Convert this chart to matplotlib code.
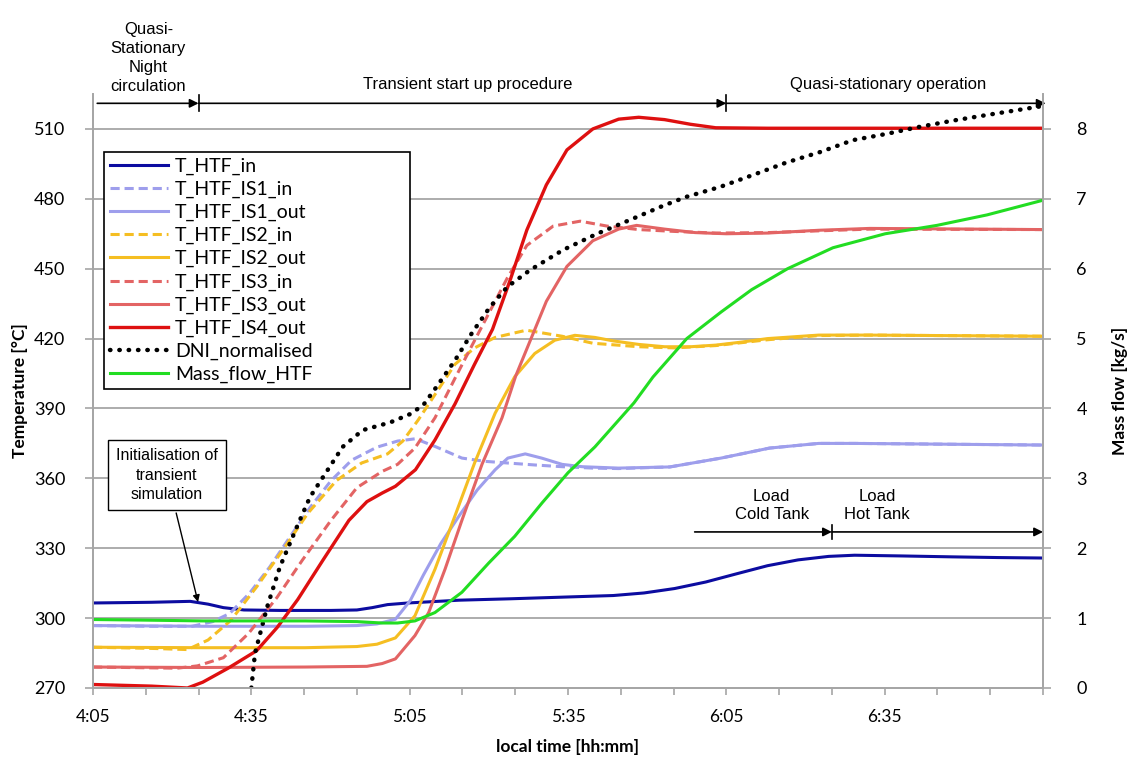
import matplotlib
matplotlib.use("Agg")
import matplotlib.pyplot as plt

# time axis: minutes after 4:05 (local time)
x_ticks = list(range(0, 181, 10))
x_labels = ["4:05", "", "", "4:35", "", "", "5:05", "", "", "5:35", "", "",
            "6:05", "", "", "6:35", "", "", ""]
temp_ticks = [270, 300, 330, 360, 390, 420, 450, 480, 510]
flow_ticks = [0, 1, 2, 3, 4, 5, 6, 7, 8]

# T_HTF_in
t_in = [0, 11.1, 18.4, 21.8, 24.7, 28.6, 35.4, 45.1, 50, 52.9, 55.8, 59.7, 69.4, 79.1,
        88.9, 98.6, 104.4, 110.2, 116.1, 121.9, 127.8, 133.6, 139.4, 144.3, 153, 162.8,
        171.5, 180]
v_in = [306.5, 306.8, 307.2, 306, 304.5, 303.5, 303.3, 303.3, 303.5, 304.5, 305.8, 306.5,
        307.7, 308.3, 309, 309.7, 310.8, 312.7, 315.5, 319, 322.5, 325, 326.5, 327, 326.7,
        326.3, 326, 325.8]

# T_HTF_IS1_in
t_is1_in = [0, 11.1, 18.8, 22.7, 25.9, 29.7, 33.5, 37.3, 41.2, 45.1, 49, 53.8, 57.7, 61.1,
            64.8, 69.9, 74.3, 79.1, 84, 88.9, 94.7, 99.6, 109.3, 119, 128.2, 137.5, 144.3, 180]
v_is1_in = [296.8, 296.5, 296.5, 298.5, 302, 310.8, 322, 334.8, 347.7, 359, 367.8, 373.4,
            376, 377, 373.7, 368.7, 367.3, 366.5, 365.7, 365, 364.4, 364.2, 364.9, 368.7,
            373, 375, 375, 374.3]

# T_HTF_IS1_out
t_is1_out = [0, 20.8, 40.2, 50, 53.8, 57.3, 60.1, 62.6, 65.9, 69.4, 72.8, 76.2, 78.6, 81.9,
             85, 88.9, 92.7, 99.6, 109.3, 119, 128.2, 137.5, 144.3, 180]
v_is1_out = [296.8, 296.5, 296.5, 296.8, 297.5, 299.5, 307.5, 318.5, 332, 344, 355, 363.7,
             368.7, 370.5, 368.7, 366, 365, 364.4, 364.9, 368.7, 373, 375, 375, 374.3]

# T_HTF_IS2_in
t_is2_in = [0, 11.1, 17.9, 21.8, 26.1, 31, 35.9, 40.7, 46.1, 50.9, 55.8, 58.7, 61.6, 64.8,
            68.6, 72.3, 76.2, 82.1, 88.9, 94.7, 103.4, 110.2, 118, 127.8, 137.5, 147.2, 180]
v_is2_in = [287.5, 287, 286.5, 290.6, 299, 313.4, 329, 345, 359, 366.6, 370.5, 376, 385, 396,
            409, 416, 420.5, 423.6, 421, 418, 416.5, 416, 417, 419.5, 421.3, 421.5, 421]

# T_HTF_IS2_out
t_is2_out = [0, 20.8, 40.2, 50, 53.8, 57.3, 61, 64.8, 68.6, 72.3, 76.2, 79.9, 83.7, 87.5,
             91.3, 95.1, 98.6, 103.4, 108.3, 113.2, 118, 122.9, 127.8, 137.5, 147.2, 180]
v_is2_out = [287.5, 287.3, 287.3, 287.8, 288.8, 291.5, 301, 321, 344, 366.6, 388, 403.6,
             413.6, 419.3, 421.4, 420.5, 419, 417.5, 416.5, 416.5, 417.2, 418.5, 420, 421.5,
             421.5, 421]

# T_HTF_IS3_in
t_is3_in = [0, 15.9, 19.8, 24.7, 29.5, 34.9, 39.7, 45.1, 50, 54.8, 57.7, 61, 64.8, 68.6,
            71.8, 74.8, 78.5, 82.2, 87.2, 92.3, 97.4, 103.4, 110.2, 118, 127.8, 147.2, 180]
v_is3_in = [279, 278.5, 279.5, 283, 293.5, 309, 325, 342, 356, 363, 366, 373, 386, 403, 417,
            430, 446, 460, 468.3, 470.4, 468.3, 466.8, 466, 465.3, 465.5, 467, 466.8]

# T_HTF_IS3_out
t_is3_out = [0, 20.8, 40.2, 51.9, 54.8, 57.3, 61, 63.6, 66.7, 69.9, 73.7, 77.5, 80.1, 83,
             85.9, 89.8, 94.7, 99.6, 103, 108.3, 114.1, 120, 127.8, 137.5, 147.2, 180]
v_is3_out = [279, 278.8, 279, 279.3, 280.5, 282.5, 292.5, 302.4, 321, 342, 366, 386, 404,
             420, 436, 451, 462, 467, 468.6, 467, 465.5, 465, 465.3, 466.5, 467.3, 466.8]

# T_HTF_IS4_out
t_is4_out = [0, 11.1, 17.9, 20.8, 25.6, 31, 34.9, 38.8, 43.6, 48.5, 51.9, 54.8, 57.3, 61.1,
             64.8, 68.6, 72.3, 75.7, 79.1, 82.2, 85.9, 89.8, 94.7, 99.6, 103.4, 108.3, 113.2,
             118, 127.8, 180]
v_is4_out = [271.5, 270.8, 270, 272.5, 278.5, 286, 296, 308, 325, 342, 350, 353.7, 356.6,
             363.7, 376.5, 392, 409, 424, 445.5, 466.6, 486, 501, 510, 514.2, 515, 514, 512,
             510.5, 510.3, 510.3]

# DNI_normalised (right axis)
t_dni = [30, 30.7, 33, 35.4, 38.6, 41.1, 43.6, 47.3, 51.1, 56.3, 60.1, 62.6, 65, 68.6, 71.8,
         75.2, 78.5, 82.8, 89.1, 95.5, 101.8, 108, 112.5, 118.8, 125, 131.4, 137.8, 144,
         150.4, 156.6, 163, 169.4, 179.3]
v_dni = [0.0, 0.5, 1.16, 1.73, 2.3, 2.73, 3.02, 3.45, 3.69, 3.8, 3.92, 4.05, 4.3, 4.69, 5.08,
         5.45, 5.74, 5.98, 6.27, 6.5, 6.7, 6.9, 7.03, 7.17, 7.34, 7.52, 7.67, 7.84, 7.93,
         8.03, 8.12, 8.2, 8.32]

# Mass_flow_HTF (right axis)
t_mf = [0, 11.1, 20.8, 30.5, 40.2, 50, 54.8, 57.7, 61, 64.8, 69.9, 75, 79.9, 85.1, 90, 95.1,
        99.8, 102.5, 106.1, 112.5, 119, 124.8, 131.6, 140.2, 150.1, 159.9, 169.4, 180]
v_mf = [0.98, 0.97, 0.96, 0.96, 0.96, 0.95, 0.93, 0.93, 0.96, 1.08, 1.37, 1.79, 2.17, 2.65,
        3.08, 3.45, 3.85, 4.08, 4.45, 5.0, 5.38, 5.7, 6.0, 6.3, 6.5, 6.62, 6.77, 6.98]

# colours
c_in = "#0C0CA0"
c_is1 = "#9E9EEC"
c_is2 = "#F5BE22"
c_is3 = "#E36464"
c_is4 = "#DE1010"
c_mf = "#22DD22"
c_grid = "#A6A6A6"

tick_font = "Lato"
txt_font = "Liberation Sans"
dash = (0, (3, 1.6))

fig = plt.figure(figsize=(11.35, 7.6), dpi=100)
ax = fig.add_axes([93 / 1135, 1 - 688 / 760, 950 / 1135, 594 / 760])
ax2 = ax.twinx()

lw = 2.2
ax.plot(t_in, v_in, color=c_in, lw=lw, label="T_HTF_in")
ax.plot(t_is1_in, v_is1_in, color=c_is1, lw=lw, ls=dash, label="T_HTF_IS1_in")
ax.plot(t_is1_out, v_is1_out, color=c_is1, lw=lw, label="T_HTF_IS1_out")
ax.plot(t_is2_in, v_is2_in, color=c_is2, lw=lw, ls=dash, label="T_HTF_IS2_in")
ax.plot(t_is2_out, v_is2_out, color=c_is2, lw=lw, label="T_HTF_IS2_out")
ax.plot(t_is3_in, v_is3_in, color=c_is3, lw=lw, ls=dash, label="T_HTF_IS3_in")
ax.plot(t_is3_out, v_is3_out, color=c_is3, lw=lw, label="T_HTF_IS3_out")
ax.plot(t_is4_out, v_is4_out, color=c_is4, lw=2.4, label="T_HTF_IS4_out")

ax2.plot(t_dni, v_dni, color="black", lw=3.2, ls=(0, (0.1, 2.0)),
         dash_capstyle="round", label="DNI_normalised")
ax2.plot(t_mf, v_mf, color=c_mf, lw=lw, label="Mass_flow_HTF")

# axes limits / ticks
ax.set_xlim(0, 180)
ax.set_ylim(270, 525)
ax2.set_ylim(0, 8.5)
ax.set_xticks(x_ticks)
ax.set_xticklabels(x_labels, fontfamily=tick_font, fontsize=12.5)
ax.set_yticks(temp_ticks)
ax.set_yticklabels([str(v) for v in temp_ticks], fontfamily=tick_font, fontsize=13)
ax2.set_yticks(flow_ticks)
ax2.set_yticklabels([str(v) for v in flow_ticks], fontfamily=tick_font, fontsize=13)

ax.grid(axis="y", color=c_grid, lw=1.3)
ax.set_axisbelow(True)
for a in (ax, ax2):
    a.spines["top"].set_visible(False)
    for s in ("left", "right", "bottom"):
        a.spines[s].set_color(c_grid)
        a.spines[s].set_linewidth(1.3)
ax.tick_params(axis="y", direction="out", length=6, color=c_grid, width=1.2, pad=14)
ax.tick_params(axis="x", direction="out", length=5, color=c_grid, width=1.2, pad=10)
ax2.tick_params(axis="y", direction="out", length=6, color=c_grid, width=1.2, pad=18)

ax.set_ylabel("Temperature [°C]", fontfamily=tick_font, fontweight="bold", fontsize=12.5,
              labelpad=4)
ax2.set_ylabel("Mass flow [kg/s]", fontfamily=tick_font, fontweight="bold", fontsize=12.5,
               labelpad=18)
ax.set_xlabel("local time [hh:mm]", fontfamily=tick_font, fontweight="bold", fontsize=12.5,
              labelpad=10)

# legend
h1, l1 = ax.get_legend_handles_labels()
h2, l2 = ax2.get_legend_handles_labels()
leg = ax2.legend(h1 + h2, l1 + l2, loc="upper left", mode="expand",
                 bbox_to_anchor=(104 / 1135, 1 - 388 / 760, 306 / 1135, 236 / 760),
                 bbox_transform=fig.transFigure, borderaxespad=0, fancybox=False,
                 edgecolor="black", framealpha=1, handlelength=3.0, handletextpad=0.35,
                 labelspacing=0.3, borderpad=0.3,
                 prop={"family": tick_font, "size": 14})
leg.get_frame().set_linewidth(1.2)
leg.set_zorder(10)

# phase annotations on top
arrow_kw = dict(arrowstyle="-|>", color="black", lw=1.2, shrinkA=0, shrinkB=0,
                mutation_scale=13)
y_top = 521
ax.annotate("", xy=(20, y_top), xytext=(0.8, y_top), arrowprops=arrow_kw,
            annotation_clip=False)
ax.annotate("", xy=(120, y_top), xytext=(20, y_top), arrowprops=arrow_kw,
            annotation_clip=False)
ax.annotate("", xy=(180.5, y_top), xytext=(120, y_top), arrowprops=arrow_kw,
            annotation_clip=False)
for tx in (20, 120):
    ax.plot([tx, tx], [y_top - 3.5, y_top + 3.5], color="black", lw=1.2, clip_on=False)

ax.text(10.5, 540.5, "Quasi-\nStationary\nNight\ncirculation", ha="center", va="center",
        fontfamily=txt_font, fontsize=12, linespacing=1.35)
ax.text(71, 529, "Transient start up procedure", ha="center", va="center",
        fontfamily=txt_font, fontsize=12)
ax.text(150.6, 529, "Quasi-stationary operation", ha="center", va="center",
        fontfamily=txt_font, fontsize=12)

# load cold / hot tank
y_load = 337
ax.annotate("", xy=(140, y_load), xytext=(114, y_load), arrowprops=arrow_kw)
ax.annotate("", xy=(180, y_load), xytext=(140, y_load), arrowprops=arrow_kw)
ax.plot([140, 140], [y_load - 3, y_load + 3], color="black", lw=1.2)
ax.text(128.6, 348.3, "Load\nCold Tank", ha="center", va="center",
        fontfamily=txt_font, fontsize=12, linespacing=1.2)
ax.text(148.6, 348.3, "Load\nHot Tank", ha="center", va="center",
        fontfamily=txt_font, fontsize=12, linespacing=1.2)

# initialisation note
ax2.annotate("Initialisation of\ntransient\nsimulation", xy=(19.9, (306.9 - 270) / 30),
             xytext=(14, (361.4 - 270) / 30), ha="center", va="center",
             fontfamily=txt_font, fontsize=11.5, linespacing=1.35,
             bbox=dict(boxstyle="square,pad=0.5", fc="white", ec="black", lw=1),
             arrowprops=dict(arrowstyle="-|>", color="black", lw=1, mutation_scale=10,
                             shrinkB=0))

fig.savefig("out.png", dpi=100)
